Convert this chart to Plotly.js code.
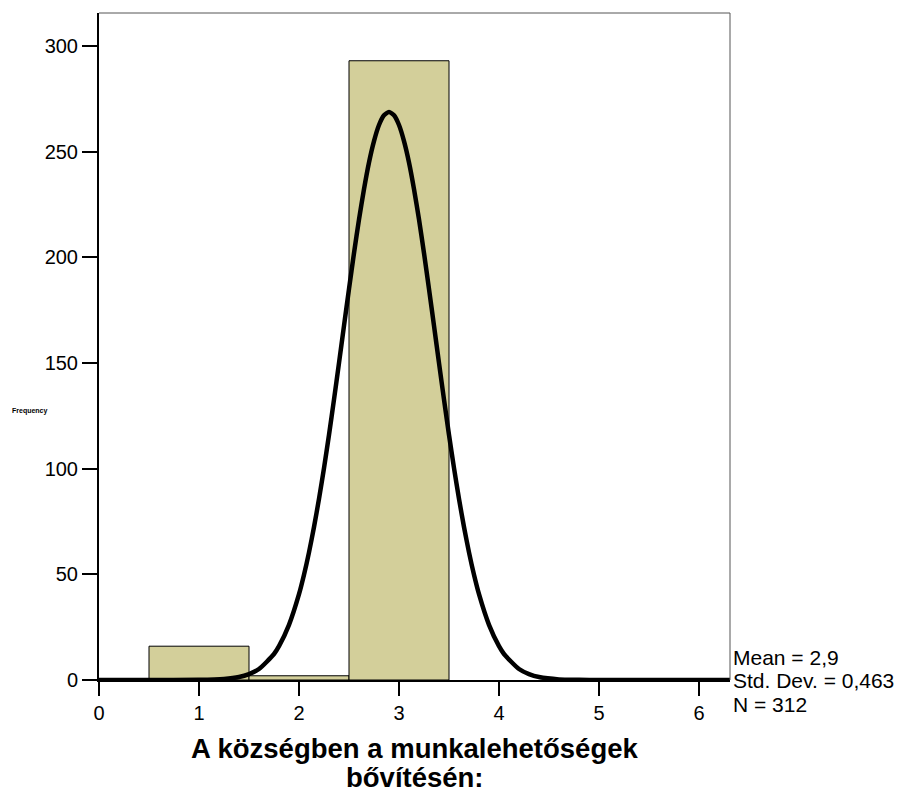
<!DOCTYPE html>
<html>
<head>
<meta charset="utf-8">
<script src="https://cdn.plot.ly/plotly-3.0.1.min.js"></script>
<style>html,body{margin:0;padding:0;background:#fff;}#chart{width:904px;height:796px;}</style>
</head>
<body>
<div id="chart"></div>
<script>
// Histogram bins (category centres) and counts
const binCenters = [1, 2, 3];
const binCounts = [16, 2, 293];
// Normal curve points
const curveX = [0, 0.5, 1.0, 1.25, 1.4, 1.5, 1.6, 1.75, 1.8, 1.9, 2.0, 2.05, 2.1, 2.15, 2.2, 2.25, 2.3, 2.35, 2.4, 2.45, 2.5, 2.55, 2.6, 2.65, 2.7, 2.75, 2.8, 2.85, 2.9,
                2.95, 3.0, 3.05, 3.1, 3.15, 3.2, 3.25, 3.3, 3.35, 3.4, 3.45, 3.5, 3.55, 3.6, 3.65, 3.7, 3.75, 3.8, 3.9, 4.0, 4.05, 4.2, 4.3, 4.4, 4.6, 4.8, 5.0, 5.5, 6.0, 6.31];
const curveY = [0, 0, 0.06, 0.5, 1.4, 2.8, 5.2, 12.3, 16.0, 26.1, 40.6, 49.8, 60.4, 72.4, 85.7, 100.3, 116, 132.7, 150, 167.6, 185, 202, 217.9, 232.3, 244.9, 255, 262.6, 267.2, 268.8,
                267.2, 262.6, 255, 244.9, 232.3, 217.9, 202, 185, 167.6, 150, 132.7, 116, 100.3, 85.7, 72.4, 60.4, 49.8, 40.6, 26.1, 16.0, 12.3, 5.2, 2.8, 1.4, 0.3, 0.1, 0, 0, 0, 0];
const xTicks = [0, 1, 2, 3, 4, 5, 6];
const yTicks = [0, 50, 100, 150, 200, 250, 300];
const statsLines = ["Mean = 2,9", "Std. Dev. = 0,463", "N = 312"];
const xTitleLines = ["A községben a munkalehetőségek", "bővítésén:"];
const yTitle = "Frequency";

const font = "Liberation Sans, Arial, sans-serif";

// plot area geometry in pixels (for placing text rows)
const W = 904, H = 796, ML = 99, MR = 174, MT = 13, MB = 116;
const plotH = H - MT - MB;
const py = (pix) => (H - MB - pix) / plotH; // pixel row -> paper y

const traces = [
  {
    type: "bar",
    x: binCenters,
    y: binCounts,
    width: 1,
    marker: {color: "#D3CF9A", line: {color: "#000", width: 1}},
    hoverinfo: "x+y"
  },
  {
    type: "scatter",
    mode: "lines",
    x: curveX,
    y: curveY,
    line: {color: "#000", width: 4.5, shape: "spline", smoothing: 0.6},
    hoverinfo: "skip"
  }
];

const annotations = [];
const statsCenters = [657, 680.5, 704];
statsLines.forEach((t, i) => annotations.push({
  xref: "paper", yref: "paper", x: 1.002, y: py(statsCenters[i]), xanchor: "left", yanchor: "middle", align: "left",
  text: t, showarrow: false, font: {family: font, size: 21, color: "#000"}
}));
const titleCenters = [748, 777];
xTitleLines.forEach((t, i) => annotations.push({
  xref: "paper", yref: "paper", x: 0.5, y: py(titleCenters[i]), xanchor: "center", yanchor: "middle",
  text: "<b>" + t + "</b>", showarrow: false, font: {family: font, size: 27.5, color: "#000"}
}));
annotations.push({
  xref: "paper", yref: "paper", x: -0.11, y: py(411), xanchor: "center", yanchor: "middle",
  text: "<b>" + yTitle + "</b>", showarrow: false, font: {family: font, size: 7, color: "#000"}
});

const layout = {
  width: W,
  height: H,
  margin: {l: ML, r: MR, t: MT, b: MB},
  showlegend: false,
  paper_bgcolor: "#fff",
  plot_bgcolor: "#fff",
  bargap: 0,
  font: {family: font, color: "#000", size: 20},
  xaxis: {
    range: [0, 6.31],
    tickvals: xTicks,
    ticktext: xTicks.map(String),
    ticks: "outside",
    ticklen: 14,
    tickwidth: 2,
    tickcolor: "#000",
    showline: true,
    linecolor: "#000",
    linewidth: 2,
    showgrid: false,
    zeroline: false,
    tickfont: {family: font, size: 20, color: "#000"}
  },
  yaxis: {
    range: [0, 315.6],
    tickvals: yTicks,
    ticks: "outside",
    ticklen: 15,
    tickwidth: 2,
    tickcolor: "#000",
    showline: true,
    linecolor: "#000",
    linewidth: 2,
    showgrid: false,
    zeroline: false,
    tickfont: {family: font, size: 20, color: "#000"}
  },
  shapes: [
    {type: "line", xref: "paper", yref: "paper", x0: 0, x1: 1, y0: 1, y1: 1, line: {color: "#555", width: 1}},
    {type: "line", xref: "paper", yref: "paper", x0: 1, x1: 1, y0: 0, y1: 1, line: {color: "#555", width: 1}}
  ],
  annotations: annotations
};

Plotly.newPlot("chart", traces, layout, {displayModeBar: false, staticPlot: true});
</script>
</body>
</html>
